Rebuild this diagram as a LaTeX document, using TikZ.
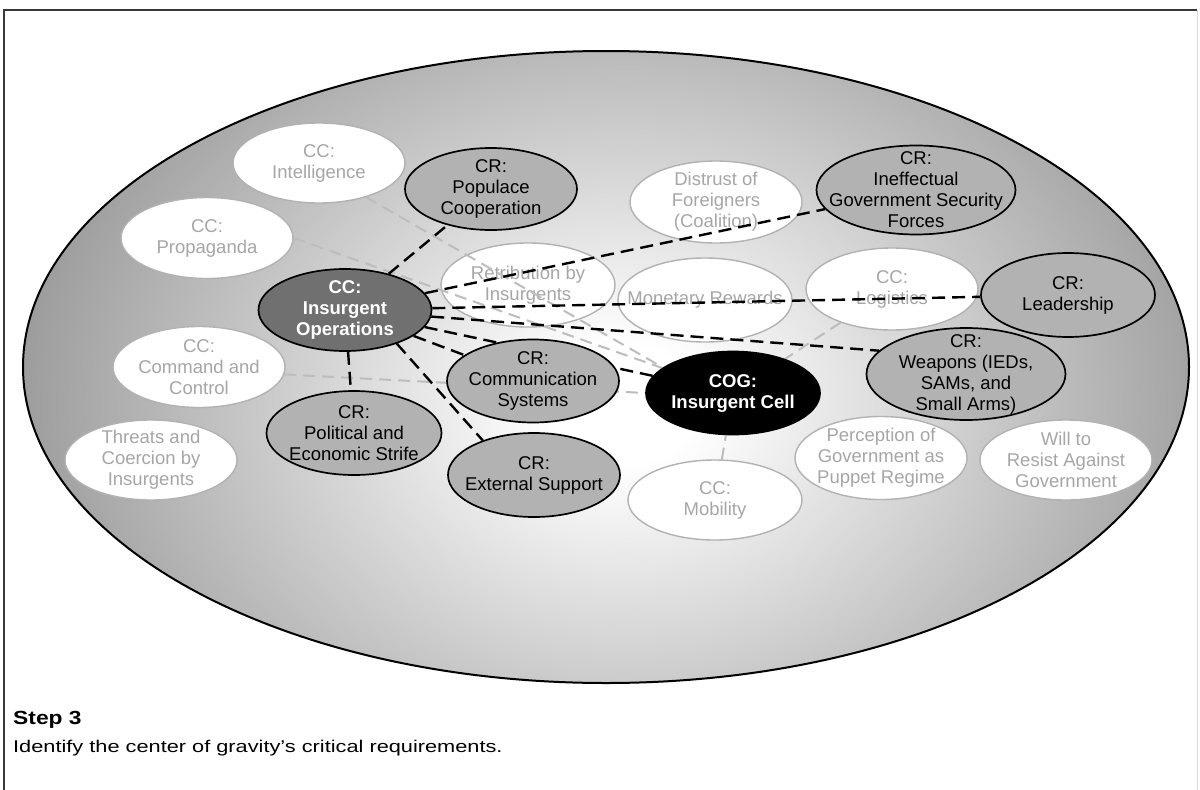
\documentclass[tikz,border=0pt]{standalone}
\usepackage{fontspec}
\setmainfont{Liberation Sans}
\usepackage{graphicx}
\usetikzlibrary{shapes.geometric}
\definecolor{edgegray}{rgb}{0.61,0.61,0.61}
\definecolor{crfill}{rgb}{0.70,0.70,0.70}
\definecolor{iofill}{rgb}{0.44,0.44,0.44}
\definecolor{ccline}{rgb}{0.70,0.70,0.70}
\definecolor{cctxt}{rgb}{0.65,0.65,0.65}
\definecolor{lightln}{rgb}{0.74,0.74,0.74}
\definecolor{framecol}{rgb}{0.22,0.22,0.22}
\pgfdeclareradialshading{bigshade}{\pgfpoint{0bp}{0bp}}{color(0bp)=(white); color(3bp)=(white); color(25bp)=(edgegray); color(50bp)=(edgegray)}
\pgfdeclarelayer{bg}
\pgfdeclarelayer{front}
\pgfsetlayers{bg,main,front}
\begin{document}
\begin{tikzpicture}[x=1pt,y=-1pt,
  nodefont/.style={font=\fontsize{18.5}{21}\selectfont},
  ell/.style={ellipse, inner sep=0pt, minimum width=172pt, minimum height=82pt},
  cctext/.style={nodefont, text=cctxt, align=center},
  crtext/.style={nodefont, text=black, align=center},
  bdtext/.style={text=white, align=center, font=\fontsize{18.5}{21}\selectfont\bfseries},
  cc/.style={ell, fill=white, draw=ccline, line width=1.4pt, label={[cctext]center:{#1}}},
  cr/.style={ell, fill=crfill, draw=black, line width=1.7pt, label={[crtext]center:{#1}}},
  ionode/.style={ell, fill=iofill, draw=black, line width=1.7pt, label={[bdtext]center:{#1}}},
  cognode/.style={ell, fill=black, draw=black, line width=1.7pt, label={[bdtext]center:{#1}}},
  blk/.style={draw=black, line width=2.4pt, dash pattern=on 13pt off 7pt},
  gry/.style={draw=lightln, line width=2pt, dash pattern=on 12pt off 7pt}
]
\useasboundingbox (0,0) rectangle (1200,790);

% background, frame and big ellipse
\begin{pgfonlayer}{bg}
\fill[white] (0,0) rectangle (1200,790);
\draw[framecol, line width=2pt] (4,790) -- (4,10) -- (1197,10);
\draw[black!15, line width=1pt] (1197,10) -- (1197,790);
\begin{scope}
  \clip (606,367) ellipse [x radius=583, y radius=316];
  \shade[shading=bigshade] (625,405) ellipse [x radius=610, y radius=480];
\end{scope}
\draw[black, line width=2pt] (606,367) ellipse [x radius=583, y radius=316];
\end{pgfonlayer}

% white (CC and other) nodes
\node[cc={CC:\\Intelligence}, minimum height=80pt] (intel) at (319,163) {};
\node[cc={CC:\\Propaganda}, minimum height=81pt] (prop) at (207,238) {};
\node[cc={Retribution by\\Insurgents}, minimum width=174pt, minimum height=84pt] (retr) at (528,285) {};
\node[cc={Distrust of\\Foreigners\\(Coalition)}] (dist) at (716,202) {};
\node[cc={Monetary Rewards}, minimum width=174pt, minimum height=84pt] (mon) at (705,300) {};
\node[cc={CC:\\Logistics}] (log) at (892,289) {};
\node[cc={CC:\\Command and\\Control}, minimum height=81pt] (cmd) at (199,367) {};
\node[cc={Threats and\\Coercion by\\Insurgents}, minimum height=80pt] (thr) at (151,460) {};
\node[cc={CC:\\Mobility}, minimum width=174pt, minimum height=80pt] (mob) at (715,500) {};
\node[cc={Perception of\\Government as\\Puppet Regime}, minimum height=83pt] (perc) at (881,458) {};
\node[cc={Will to\\Resist Against\\Government}, minimum height=80pt] (will) at (1066,460) {};

% front nodes
\begin{pgfonlayer}{front}
\node[cr={CR:\\Populace\\Cooperation}] (pop) at (491,189) {};
\node[ionode={CC:\\Insurgent\\Operations}, minimum width=173pt] (io) at (345,310) {};
\node[cr={CR:\\Ineffectual\\Government Security\\Forces}, minimum width=199pt, minimum height=89pt] (ineff) at (916,190) {};
\node[cr={CR:\\Leadership}, minimum width=174pt, minimum height=84pt] (lead) at (1068,295) {};
\node[cr={CR:\\Weapons (IEDs,\\SAMs, and\\Small Arms)}, minimum width=199pt, minimum height=92pt] (wea) at (966,374) {};
\node[cognode={COG:\\Insurgent Cell}, minimum width=174pt, minimum height=83pt] (cog) at (733,393) {};
\node[cr={CR:\\Communication\\Systems}, minimum height=83pt] (comm) at (533,381) {};
\node[cr={CR:\\Political and\\Economic Strife}, minimum width=175pt, minimum height=84pt] (pol) at (354,433) {};
\node[cr={CR:\\External Support}, minimum height=84pt] (ext) at (534,475) {};
\end{pgfonlayer}

% light connectors
\draw[gry] (intel.-36) -- (cog.160);
\draw[gry] (prop.east) -- (cog);
\draw[gry] (cmd.-5) -- (cog.west);
\draw[gry] (log) -- (cog);
\draw[gry] (mob) -- (cog);

% dark connectors
\draw[blk] (io) -- (pop);
\draw[blk] (io) -- (ineff);
\draw[blk] (io) -- (lead);
\draw[blk] (io) -- (wea.165);
\draw[blk] (io) -- (cog);
\draw[blk] (io) -- (comm);
\draw[blk] (io.-33) -- (ext.146);
\draw[blk] (io) -- (pol);

% caption
\node[anchor=base west, inner sep=0pt, font=\fontsize{19}{21}\selectfont\bfseries] (step) at (13,724) {\scalebox{1.2}[1]{Step 3}};
\node[anchor=base west, inner sep=0pt, font=\fontsize{17}{20}\selectfont] (desc) at (13,752) {\scalebox{1.28}[1]{Identify the center of gravity’s critical requirements.}};
\end{tikzpicture}
\end{document}
